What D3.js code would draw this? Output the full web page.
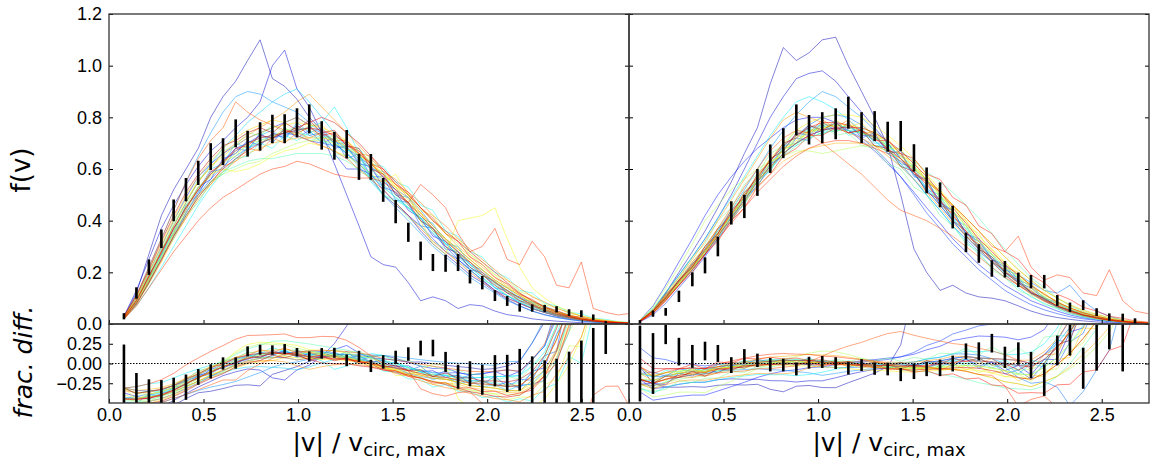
<!DOCTYPE html>
<html>
<head>
<meta charset="utf-8">
<script src="https://cdn.jsdelivr.net/npm/d3@7"></script>
<style>
  body { margin: 0; background: #fff; }
  svg { display: block; }
</style>
</head>
<body>
<script>
// ---- data ----

// left panel: bin centres, f(v) of the data with errors, frac. diff. with errors
const xLeft = [0.079,0.145,0.211,0.277,0.342,0.407,0.472,0.538,0.603,0.670,
  0.733,0.799,0.864,0.929,0.994,1.059,1.125,1.192,1.257,1.322,
  1.385,1.450,1.516,1.583,1.648,1.713,1.780,1.846,1.909,1.974,
  2.041,2.106,2.172,2.238,2.304,2.367,2.433,2.498,2.561,2.627];
const fLeft = [0.030,0.120,0.220,0.330,0.440,0.520,0.585,0.648,0.667,0.738,
  0.698,0.726,0.755,0.756,0.779,0.794,0.730,0.690,0.696,0.608,
  0.608,0.519,0.435,0.355,0.283,0.238,0.235,0.238,0.183,0.160,
  0.110,0.089,0.064,0.062,0.060,0.057,0.044,0.040,0.026,-0.005];
const errLeft = [0.012,0.022,0.030,0.036,0.042,0.045,0.047,0.052,0.052,0.054,
  0.050,0.055,0.055,0.056,0.056,0.056,0.055,0.054,0.055,0.050,
  0.050,0.046,0.045,0.037,0.036,0.033,0.033,0.033,0.026,0.026,
  0.021,0.019,0.016,0.014,0.014,0.012,0.013,0.013,0.011,0.016];
const fracLeft = [-0.20,-0.45,-0.45,-0.44,-0.40,-0.30,-0.17,-0.10,0.00,0.006,
  0.154,0.175,0.170,0.183,0.143,0.090,0.128,0.135,0.040,0.090,
  -0.030,0.020,0.078,0.120,0.196,0.196,0.020,-0.167,-0.130,-0.205,
  -0.090,-0.125,-0.080,-0.250,-0.300,-0.300,-0.250,-0.200,-0.150,0.380];
const fracErrLeft = [0.44,0.33,0.25,0.23,0.22,0.16,0.10,0.09,0.078,0.072,
  0.063,0.063,0.060,0.063,0.053,0.063,0.067,0.063,0.074,0.071,
  0.078,0.085,0.084,0.085,0.093,0.105,0.127,0.152,0.158,0.190,
  0.196,0.235,0.265,0.34,0.34,0.36,0.40,0.49,0.60,0.26];

// left panel: the reference curve the frac. diff. of the thin lines is taken against
const lineXLeft = [...xLeft, 2.692, 2.757];
const modelLeft = [0.0138,0.0495,0.104,0.167,0.245,0.334,0.428,0.519,0.601,0.680,
  0.745,0.788,0.819,0.838,0.836,0.823,0.806,0.777,0.737,0.680,
  0.620,0.551,0.490,0.427,0.367,0.309,0.264,0.221,0.180,0.148,
  0.117,0.092,0.072,0.063,0.055,0.052,0.049,0.040,0.036,0.032,
  0.025,0.018];

// left panel: individual thin curves, f(v) at lineXLeft
const linesLeft = [
  [0.030,0.120,0.270,0.420,0.520,0.600,0.680,0.800,0.880,0.940,1.020,1.100,0.950,0.920,0.870,0.800,0.750,0.700,0.660,0.620,0.570,0.500,0.460,0.420,0.360,0.310,0.270,0.230,0.190,0.160,0.125,0.095,0.070,0.050,0.036,0.026,0.018,0.012,0.008,0.005,0.003,0.002],
  [0.030,0.130,0.250,0.370,0.460,0.540,0.610,0.670,0.710,0.760,0.800,0.860,1.000,1.060,0.910,0.840,0.740,0.620,0.500,0.380,0.260,0.230,0.220,0.160,0.090,0.105,0.090,0.060,0.075,0.070,0.050,0.036,0.030,0.020,0.015,0.011,0.008,0.005,0.003,0.002,0.001,0.001],
  [0.022,0.085,0.190,0.270,0.370,0.440,0.530,0.560,0.640,0.660,0.710,0.690,0.740,0.720,0.770,0.730,0.740,0.680,0.690,0.620,0.610,0.530,0.510,0.440,0.410,0.340,0.320,0.260,0.240,0.190,0.165,0.120,0.105,0.070,0.058,0.038,0.030,0.018,0.014,0.008,0.006,0.003],
  [0.028,0.100,0.200,0.300,0.400,0.490,0.570,0.620,0.660,0.690,0.720,0.740,0.760,0.780,0.800,0.770,0.720,0.660,0.600,0.600,0.580,0.520,0.470,0.420,0.380,0.330,0.280,0.250,0.210,0.170,0.130,0.110,0.080,0.060,0.045,0.033,0.024,0.016,0.011,0.007,0.004,0.002],
  [0.020,0.075,0.160,0.250,0.340,0.430,0.510,0.580,0.630,0.680,0.700,0.730,0.720,0.740,0.730,0.710,0.700,0.690,0.680,0.650,0.610,0.570,0.520,0.460,0.400,0.350,0.300,0.250,0.210,0.170,0.130,0.100,0.080,0.060,0.045,0.030,0.020,0.014,0.009,0.006,0.004,0.002],
  [0.027,0.100,0.170,0.290,0.350,0.460,0.500,0.590,0.600,0.680,0.670,0.740,0.700,0.760,0.720,0.750,0.700,0.720,0.640,0.660,0.570,0.570,0.480,0.470,0.380,0.370,0.290,0.280,0.210,0.200,0.140,0.130,0.090,0.080,0.050,0.045,0.025,0.022,0.011,0.010,0.004,0.004],
  [0.025,0.085,0.170,0.260,0.350,0.430,0.500,0.560,0.610,0.650,0.680,0.700,0.720,0.730,0.750,0.760,0.740,0.710,0.680,0.640,0.600,0.550,0.520,0.490,0.440,0.380,0.330,0.280,0.230,0.190,0.160,0.130,0.100,0.085,0.070,0.050,0.035,0.020,0.012,0.008,0.005,0.003],
  [0.030,0.110,0.220,0.330,0.440,0.550,0.650,0.740,0.820,0.880,0.900,0.890,0.860,0.840,0.820,0.780,0.740,0.700,0.660,0.610,0.560,0.500,0.450,0.400,0.350,0.300,0.260,0.220,0.180,0.150,0.120,0.090,0.070,0.050,0.035,0.025,0.017,0.011,0.007,0.004,0.003,0.002],
  [0.024,0.090,0.175,0.265,0.360,0.455,0.515,0.600,0.620,0.700,0.680,0.730,0.750,0.710,0.780,0.740,0.760,0.700,0.700,0.650,0.600,0.590,0.500,0.490,0.410,0.390,0.310,0.300,0.230,0.210,0.160,0.140,0.100,0.085,0.060,0.050,0.030,0.025,0.015,0.011,0.006,0.004],
  [0.025,0.090,0.180,0.280,0.380,0.470,0.550,0.620,0.680,0.730,0.780,0.820,0.860,0.890,0.910,0.860,0.800,0.740,0.680,0.630,0.580,0.530,0.490,0.450,0.410,0.360,0.310,0.260,0.220,0.180,0.140,0.110,0.085,0.060,0.045,0.032,0.022,0.015,0.010,0.006,0.004,0.002],
  [0.020,0.070,0.140,0.220,0.300,0.380,0.460,0.530,0.590,0.640,0.680,0.710,0.730,0.740,0.750,0.760,0.780,0.840,0.760,0.660,0.550,0.500,0.480,0.450,0.410,0.360,0.310,0.270,0.220,0.180,0.140,0.110,0.085,0.065,0.048,0.035,0.025,0.017,0.011,0.007,0.004,0.002],
  [0.020,0.080,0.160,0.260,0.330,0.420,0.470,0.550,0.580,0.640,0.650,0.700,0.680,0.730,0.710,0.740,0.720,0.730,0.670,0.680,0.620,0.610,0.550,0.530,0.460,0.440,0.360,0.340,0.280,0.260,0.200,0.180,0.130,0.120,0.080,0.070,0.045,0.040,0.022,0.018,0.009,0.006],
  [0.025,0.090,0.180,0.270,0.360,0.450,0.520,0.580,0.630,0.670,0.700,0.720,0.730,0.740,0.740,0.730,0.710,0.690,0.660,0.620,0.580,0.540,0.500,0.450,0.400,0.350,0.310,0.270,0.230,0.190,0.155,0.125,0.095,0.072,0.052,0.038,0.027,0.018,0.012,0.008,0.005,0.003],
  [0.020,0.080,0.160,0.250,0.340,0.420,0.490,0.550,0.590,0.610,0.630,0.640,0.640,0.650,0.660,0.660,0.660,0.650,0.630,0.600,0.570,0.530,0.490,0.450,0.410,0.370,0.330,0.290,0.250,0.210,0.170,0.140,0.110,0.080,0.060,0.045,0.032,0.022,0.014,0.009,0.006,0.003],
  [0.026,0.095,0.200,0.280,0.390,0.470,0.560,0.600,0.670,0.690,0.740,0.730,0.770,0.740,0.760,0.710,0.720,0.660,0.650,0.590,0.570,0.500,0.470,0.410,0.380,0.320,0.290,0.240,0.210,0.170,0.150,0.110,0.090,0.065,0.050,0.035,0.026,0.016,0.012,0.007,0.005,0.003],
  [0.025,0.095,0.190,0.290,0.380,0.460,0.530,0.580,0.620,0.660,0.690,0.700,0.720,0.750,0.760,0.750,0.730,0.700,0.670,0.640,0.600,0.560,0.520,0.470,0.420,0.370,0.320,0.280,0.240,0.200,0.160,0.130,0.100,0.075,0.055,0.040,0.028,0.019,0.012,0.008,0.005,0.003],
  [0.020,0.080,0.170,0.260,0.350,0.430,0.500,0.550,0.580,0.600,0.620,0.630,0.660,0.680,0.700,0.710,0.710,0.700,0.680,0.650,0.620,0.580,0.540,0.500,0.450,0.400,0.350,0.310,0.270,0.230,0.190,0.150,0.120,0.090,0.070,0.050,0.035,0.024,0.016,0.010,0.006,0.003],
  [0.023,0.088,0.180,0.280,0.360,0.450,0.530,0.570,0.630,0.650,0.700,0.710,0.720,0.760,0.730,0.770,0.720,0.720,0.680,0.660,0.610,0.580,0.530,0.500,0.440,0.420,0.350,0.330,0.270,0.240,0.190,0.170,0.125,0.110,0.075,0.065,0.040,0.033,0.020,0.015,0.008,0.005],
  [0.020,0.090,0.170,0.260,0.350,0.440,0.520,0.580,0.600,0.590,0.600,0.620,0.650,0.670,0.680,0.700,0.690,0.670,0.650,0.620,0.580,0.550,0.580,0.500,0.400,0.310,0.270,0.400,0.410,0.420,0.450,0.330,0.220,0.140,0.100,0.070,0.050,0.030,0.020,0.012,0.008,0.005],
  [0.028,0.100,0.200,0.300,0.400,0.480,0.550,0.610,0.650,0.690,0.720,0.740,0.760,0.770,0.780,0.770,0.760,0.740,0.710,0.670,0.630,0.580,0.530,0.480,0.430,0.380,0.330,0.290,0.250,0.210,0.170,0.140,0.110,0.085,0.063,0.046,0.033,0.022,0.015,0.010,0.006,0.004],
  [0.028,0.105,0.210,0.310,0.410,0.500,0.570,0.630,0.680,0.720,0.750,0.770,0.790,0.780,0.800,0.770,0.770,0.720,0.710,0.650,0.630,0.560,0.530,0.460,0.430,0.360,0.330,0.270,0.240,0.190,0.165,0.125,0.100,0.075,0.055,0.040,0.028,0.019,0.012,0.008,0.005,0.003],
  [0.020,0.075,0.155,0.240,0.330,0.410,0.480,0.540,0.590,0.630,0.660,0.680,0.700,0.710,0.720,0.720,0.720,0.710,0.690,0.660,0.620,0.580,0.540,0.500,0.450,0.400,0.350,0.300,0.260,0.220,0.180,0.145,0.115,0.088,0.065,0.048,0.034,0.023,0.015,0.010,0.006,0.003],
  [0.025,0.090,0.180,0.280,0.380,0.470,0.550,0.610,0.660,0.700,0.730,0.760,0.790,0.820,0.860,0.890,0.840,0.790,0.740,0.690,0.640,0.590,0.540,0.490,0.430,0.380,0.330,0.290,0.250,0.210,0.170,0.140,0.110,0.080,0.060,0.044,0.031,0.021,0.014,0.009,0.005,0.003],
  [0.021,0.078,0.165,0.245,0.340,0.410,0.500,0.540,0.610,0.630,0.680,0.670,0.720,0.700,0.740,0.720,0.740,0.710,0.710,0.660,0.650,0.590,0.560,0.510,0.470,0.420,0.380,0.330,0.290,0.250,0.210,0.170,0.140,0.105,0.085,0.060,0.045,0.030,0.020,0.013,0.008,0.004],
  [0.030,0.110,0.220,0.330,0.440,0.550,0.640,0.710,0.760,0.860,0.820,0.790,0.770,0.750,0.730,0.710,0.690,0.670,0.640,0.600,0.560,0.520,0.470,0.420,0.370,0.320,0.280,0.240,0.200,0.165,0.130,0.100,0.080,0.060,0.044,0.032,0.022,0.015,0.010,0.006,0.004,0.002],
  [0.020,0.070,0.140,0.210,0.280,0.340,0.400,0.450,0.490,0.520,0.550,0.580,0.600,0.610,0.630,0.620,0.600,0.580,0.570,0.565,0.565,0.550,0.510,0.470,0.540,0.500,0.450,0.350,0.280,0.300,0.370,0.250,0.230,0.320,0.260,0.150,0.140,0.240,0.060,0.045,0.035,0.041],
  [0.025,0.092,0.185,0.275,0.370,0.450,0.520,0.590,0.620,0.680,0.690,0.730,0.720,0.750,0.740,0.760,0.730,0.740,0.690,0.670,0.620,0.600,0.540,0.510,0.450,0.410,0.350,0.320,0.260,0.230,0.180,0.155,0.115,0.095,0.065,0.052,0.033,0.026,0.015,0.011,0.006,0.004],
  [0.025,0.090,0.185,0.280,0.370,0.450,0.520,0.580,0.630,0.670,0.700,0.720,0.730,0.740,0.750,0.760,0.750,0.730,0.700,0.660,0.620,0.570,0.520,0.470,0.420,0.370,0.320,0.280,0.240,0.200,0.160,0.130,0.100,0.075,0.055,0.040,0.028,0.019,0.012,0.008,0.005,0.003],
  [0.020,0.080,0.160,0.250,0.340,0.420,0.490,0.550,0.600,0.640,0.670,0.700,0.720,0.740,0.760,0.780,0.800,0.780,0.740,0.700,0.650,0.600,0.550,0.500,0.450,0.400,0.360,0.320,0.280,0.240,0.200,0.160,0.120,0.090,0.065,0.045,0.030,0.020,0.013,0.008,0.005,0.003],
  [0.030,0.110,0.210,0.320,0.420,0.510,0.580,0.640,0.690,0.710,0.740,0.760,0.740,0.780,0.750,0.790,0.740,0.750,0.690,0.680,0.600,0.580,0.500,0.470,0.400,0.370,0.300,0.270,0.220,0.190,0.150,0.120,0.090,0.070,0.050,0.036,0.026,0.017,0.011,0.007,0.004,0.002]
];

// right panel
const xRight = [0.058,0.127,0.194,0.264,0.335,0.402,0.470,0.541,0.610,0.679,
  0.747,0.816,0.885,0.952,1.022,1.093,1.160,1.230,1.299,1.368,
  1.437,1.507,1.574,1.645,1.712,1.782,1.850,1.919,1.988,2.059,
  2.126,2.196,2.265,2.332,2.402,2.473,2.540,2.611,2.676];
const fRight = [0.005,0.040,0.047,0.107,0.173,0.227,0.300,0.430,0.455,0.548,
  0.640,0.700,0.790,0.752,0.760,0.775,0.818,0.760,0.766,0.725,
  0.728,0.643,0.556,0.500,0.414,0.316,0.273,0.215,0.212,0.171,
  0.164,0.164,0.091,0.065,0.073,0.046,0.027,0.026,0.009];
const errRight = [0.010,0.012,0.015,0.022,0.027,0.031,0.038,0.045,0.045,0.052,
  0.055,0.058,0.060,0.057,0.060,0.060,0.062,0.060,0.058,0.058,
  0.058,0.053,0.050,0.048,0.044,0.038,0.036,0.032,0.032,0.028,
  0.026,0.026,0.021,0.018,0.019,0.015,0.014,0.014,0.013];
const fracRight = [0.00,0.00,0.37,0.15,0.09,0.158,0.127,-0.02,0.094,0.04,
  -0.015,-0.02,-0.07,0.01,0.02,0.005,-0.06,-0.02,-0.065,-0.07,
  -0.14,-0.10,-0.07,-0.055,0.00,0.154,0.154,0.257,0.078,0.126,
  -0.02,-0.21,0.165,0.30,-0.06,0.20,0.55,0.25,0.90];
const fracErrRight = [0.48,0.385,0.125,0.175,0.145,0.118,0.107,0.10,0.088,0.085,
  0.085,0.08,0.08,0.075,0.076,0.075,0.08,0.075,0.078,0.08,
  0.083,0.097,0.09,0.105,0.10,0.10,0.114,0.118,0.135,0.142,
  0.167,0.20,0.188,0.20,0.26,0.29,0.37,0.35,0.35];

const lineXRight = [...xRight, 2.745];
const modelRight = [0.0096,0.0375,0.084,0.140,0.198,0.252,0.326,0.403,0.480,0.560,
  0.626,0.687,0.727,0.758,0.765,0.770,0.757,0.735,0.703,0.662,
  0.618,0.570,0.528,0.475,0.426,0.370,0.310,0.255,0.200,0.156,
  0.120,0.100,0.084,0.070,0.058,0.046,0.035,0.027,0.020,0.015];

const linesRight = [
  [0.010,0.050,0.120,0.200,0.280,0.360,0.450,0.550,0.660,0.760,0.930,1.070,1.020,1.050,1.100,1.110,1.000,0.900,0.800,0.690,0.500,0.290,0.200,0.130,0.150,0.120,0.105,0.100,0.090,0.070,0.050,0.035,0.025,0.018,0.012,0.008,0.005,0.003,0.002,0.001],
  [0.012,0.055,0.120,0.190,0.260,0.330,0.410,0.500,0.600,0.700,0.800,0.880,0.950,0.970,0.980,0.940,0.880,0.820,0.760,0.700,0.640,0.580,0.520,0.460,0.400,0.340,0.290,0.240,0.190,0.150,0.120,0.090,0.065,0.045,0.030,0.020,0.012,0.007,0.004,0.002],
  [0.013,0.050,0.115,0.160,0.235,0.270,0.370,0.410,0.510,0.550,0.640,0.670,0.740,0.730,0.780,0.750,0.770,0.730,0.730,0.670,0.660,0.580,0.560,0.470,0.440,0.350,0.320,0.250,0.220,0.160,0.140,0.095,0.080,0.050,0.040,0.024,0.018,0.009,0.007,0.003],
  [0.015,0.070,0.150,0.240,0.330,0.420,0.500,0.570,0.630,0.680,0.720,0.760,0.790,0.800,0.800,0.780,0.750,0.710,0.670,0.620,0.570,0.510,0.450,0.390,0.330,0.280,0.230,0.190,0.150,0.120,0.090,0.070,0.050,0.035,0.024,0.016,0.010,0.006,0.004,0.002],
  [0.008,0.035,0.080,0.140,0.200,0.260,0.330,0.400,0.470,0.540,0.600,0.660,0.700,0.730,0.750,0.760,0.750,0.720,0.680,0.630,0.570,0.500,0.430,0.370,0.310,0.260,0.210,0.170,0.130,0.100,0.075,0.055,0.040,0.028,0.020,0.014,0.009,0.006,0.004,0.002],
  [0.011,0.042,0.100,0.150,0.220,0.265,0.350,0.400,0.490,0.530,0.620,0.650,0.720,0.710,0.770,0.740,0.780,0.720,0.740,0.660,0.670,0.570,0.560,0.460,0.440,0.350,0.330,0.250,0.230,0.170,0.150,0.100,0.085,0.055,0.042,0.026,0.020,0.010,0.007,0.003],
  [0.011,0.045,0.100,0.160,0.220,0.280,0.350,0.420,0.490,0.560,0.620,0.680,0.730,0.770,0.800,0.810,0.800,0.770,0.730,0.680,0.620,0.560,0.500,0.440,0.380,0.330,0.280,0.240,0.210,0.190,0.160,0.130,0.120,0.150,0.090,0.050,0.030,0.015,0.008,0.004],
  [0.012,0.050,0.105,0.170,0.230,0.290,0.360,0.440,0.520,0.600,0.680,0.750,0.810,0.860,0.900,0.880,0.840,0.800,0.750,0.700,0.640,0.580,0.520,0.460,0.400,0.340,0.290,0.240,0.200,0.160,0.120,0.090,0.067,0.048,0.033,0.022,0.014,0.008,0.005,0.003],
  [0.012,0.048,0.098,0.165,0.210,0.290,0.330,0.430,0.470,0.570,0.600,0.690,0.700,0.770,0.740,0.790,0.740,0.760,0.700,0.700,0.620,0.610,0.520,0.500,0.410,0.380,0.300,0.270,0.200,0.180,0.120,0.105,0.065,0.055,0.032,0.027,0.014,0.011,0.005,0.003],
  [0.013,0.052,0.110,0.170,0.230,0.290,0.360,0.430,0.500,0.570,0.630,0.690,0.730,0.760,0.770,0.770,0.760,0.740,0.710,0.670,0.630,0.580,0.530,0.470,0.410,0.350,0.300,0.250,0.200,0.160,0.125,0.095,0.070,0.050,0.034,0.023,0.014,0.008,0.005,0.003],
  [0.014,0.060,0.120,0.190,0.260,0.330,0.410,0.490,0.570,0.650,0.730,0.800,0.860,0.880,0.860,0.830,0.790,0.750,0.710,0.660,0.610,0.560,0.500,0.440,0.380,0.320,0.270,0.220,0.180,0.140,0.105,0.080,0.058,0.040,0.027,0.018,0.011,0.007,0.004,0.002],
  [0.010,0.046,0.092,0.158,0.205,0.285,0.325,0.420,0.460,0.560,0.590,0.680,0.690,0.760,0.730,0.780,0.730,0.750,0.690,0.690,0.610,0.600,0.510,0.490,0.400,0.370,0.290,0.260,0.190,0.170,0.115,0.100,0.062,0.052,0.030,0.025,0.013,0.010,0.005,0.002],
  [0.011,0.045,0.095,0.155,0.215,0.275,0.340,0.410,0.480,0.550,0.610,0.660,0.700,0.720,0.740,0.750,0.750,0.740,0.720,0.690,0.650,0.610,0.560,0.500,0.440,0.380,0.320,0.270,0.220,0.180,0.140,0.105,0.078,0.056,0.039,0.026,0.016,0.010,0.006,0.003],
  [0.012,0.050,0.100,0.160,0.220,0.280,0.350,0.420,0.490,0.550,0.600,0.650,0.690,0.720,0.740,0.750,0.750,0.740,0.720,0.700,0.670,0.630,0.590,0.550,0.510,0.460,0.410,0.350,0.290,0.230,0.180,0.140,0.100,0.070,0.048,0.032,0.020,0.012,0.007,0.004],
  [0.014,0.058,0.125,0.180,0.260,0.310,0.400,0.450,0.540,0.580,0.660,0.690,0.750,0.740,0.770,0.730,0.740,0.690,0.680,0.620,0.600,0.530,0.500,0.420,0.380,0.310,0.280,0.210,0.180,0.130,0.110,0.075,0.062,0.040,0.030,0.018,0.013,0.007,0.005,0.002],
  [0.013,0.055,0.110,0.175,0.240,0.300,0.370,0.440,0.510,0.570,0.630,0.680,0.720,0.750,0.760,0.770,0.760,0.750,0.720,0.690,0.650,0.600,0.550,0.490,0.430,0.370,0.310,0.260,0.210,0.170,0.130,0.100,0.072,0.050,0.035,0.023,0.014,0.008,0.005,0.003],
  [0.014,0.065,0.140,0.220,0.310,0.400,0.460,0.520,0.560,0.600,0.630,0.650,0.670,0.670,0.660,0.670,0.680,0.690,0.690,0.670,0.640,0.600,0.560,0.510,0.460,0.410,0.360,0.310,0.260,0.210,0.170,0.130,0.100,0.075,0.055,0.038,0.025,0.016,0.010,0.006],
  [0.012,0.047,0.108,0.155,0.232,0.270,0.360,0.400,0.500,0.530,0.630,0.650,0.730,0.720,0.780,0.740,0.780,0.730,0.750,0.680,0.680,0.600,0.580,0.490,0.460,0.380,0.350,0.270,0.240,0.180,0.155,0.110,0.090,0.060,0.046,0.029,0.021,0.011,0.008,0.004],
  [0.012,0.050,0.105,0.165,0.225,0.285,0.350,0.420,0.490,0.560,0.620,0.670,0.710,0.740,0.760,0.770,0.770,0.760,0.740,0.700,0.660,0.610,0.560,0.500,0.440,0.380,0.320,0.270,0.220,0.180,0.140,0.105,0.078,0.056,0.040,0.027,0.017,0.010,0.006,0.003],
  [0.010,0.045,0.095,0.155,0.215,0.280,0.350,0.420,0.500,0.570,0.640,0.700,0.750,0.780,0.800,0.810,0.810,0.800,0.770,0.730,0.690,0.640,0.580,0.520,0.460,0.400,0.340,0.290,0.240,0.190,0.150,0.115,0.085,0.062,0.044,0.030,0.019,0.011,0.006,0.003],
  [0.011,0.044,0.095,0.160,0.215,0.285,0.340,0.430,0.470,0.560,0.600,0.680,0.700,0.750,0.750,0.790,0.760,0.780,0.720,0.720,0.650,0.630,0.550,0.520,0.430,0.400,0.320,0.290,0.220,0.200,0.140,0.120,0.080,0.065,0.040,0.032,0.018,0.013,0.006,0.004],
  [0.011,0.048,0.100,0.160,0.220,0.280,0.340,0.400,0.470,0.530,0.580,0.630,0.660,0.680,0.690,0.700,0.700,0.700,0.690,0.670,0.640,0.600,0.560,0.510,0.460,0.410,0.360,0.310,0.260,0.210,0.170,0.130,0.100,0.073,0.052,0.036,0.024,0.015,0.009,0.005],
  [0.013,0.055,0.115,0.180,0.250,0.320,0.400,0.480,0.560,0.640,0.720,0.790,0.820,0.800,0.780,0.760,0.740,0.720,0.690,0.650,0.610,0.560,0.510,0.450,0.390,0.340,0.290,0.240,0.190,0.150,0.115,0.087,0.064,0.045,0.031,0.021,0.013,0.008,0.005,0.003],
  [0.013,0.052,0.112,0.168,0.240,0.290,0.370,0.420,0.510,0.560,0.640,0.670,0.740,0.740,0.790,0.760,0.790,0.740,0.740,0.670,0.660,0.580,0.550,0.460,0.430,0.340,0.310,0.240,0.210,0.150,0.130,0.090,0.075,0.048,0.037,0.022,0.016,0.008,0.006,0.003],
  [0.012,0.050,0.105,0.170,0.230,0.300,0.370,0.450,0.530,0.600,0.670,0.720,0.750,0.740,0.700,0.660,0.620,0.580,0.530,0.480,0.440,0.420,0.400,0.370,0.340,0.300,0.260,0.220,0.180,0.150,0.120,0.090,0.070,0.050,0.035,0.024,0.016,0.010,0.006,0.003],
  [0.010,0.045,0.095,0.150,0.210,0.270,0.330,0.390,0.450,0.510,0.560,0.610,0.650,0.680,0.700,0.710,0.710,0.700,0.680,0.660,0.630,0.590,0.550,0.510,0.460,0.410,0.360,0.300,0.280,0.340,0.220,0.170,0.190,0.180,0.120,0.110,0.210,0.090,0.050,0.040],
  [0.010,0.043,0.090,0.150,0.200,0.270,0.320,0.400,0.450,0.530,0.580,0.650,0.680,0.730,0.730,0.760,0.740,0.750,0.710,0.710,0.660,0.640,0.580,0.560,0.490,0.460,0.380,0.350,0.280,0.250,0.190,0.160,0.115,0.095,0.065,0.050,0.030,0.022,0.012,0.007],
  [0.012,0.050,0.105,0.165,0.225,0.285,0.350,0.430,0.500,0.570,0.630,0.690,0.730,0.760,0.780,0.780,0.770,0.750,0.720,0.680,0.640,0.590,0.540,0.480,0.420,0.360,0.300,0.250,0.200,0.160,0.125,0.095,0.070,0.050,0.035,0.023,0.014,0.008,0.005,0.003],
  [0.009,0.040,0.090,0.150,0.210,0.270,0.340,0.410,0.480,0.550,0.610,0.660,0.700,0.730,0.750,0.760,0.760,0.760,0.740,0.710,0.670,0.620,0.570,0.510,0.450,0.390,0.330,0.280,0.230,0.190,0.150,0.115,0.085,0.062,0.044,0.030,0.019,0.011,0.006,0.003],
  [0.012,0.050,0.100,0.170,0.220,0.300,0.350,0.440,0.490,0.580,0.630,0.700,0.720,0.770,0.750,0.780,0.740,0.750,0.690,0.680,0.610,0.590,0.510,0.480,0.400,0.360,0.290,0.260,0.200,0.170,0.120,0.100,0.068,0.054,0.034,0.026,0.015,0.010,0.005,0.003]
];

const xTicks = [0, 0.5, 1.0, 1.5, 2.0, 2.5];
const fTicks = [0, 0.2, 0.4, 0.6, 0.8, 1.0, 1.2];
const fracTicks = [-0.25, 0, 0.25];

// ---- drawing ----
const W = 1158, H = 463;
const panelW = 520, topY0 = 14, topY1 = 324, botY1 = 403;

const svg = d3.select("body").append("svg")
  .attr("width", W).attr("height", H)
  .style("font-family", "'DejaVu Sans', sans-serif");
svg.append("rect").attr("width", W).attr("height", H).attr("fill", "#fff");
const defs = svg.append("defs");

// matplotlib 'jet'
const clamp = v => Math.max(0, Math.min(1, v));
const jet = t => d3.rgb(
  255 * clamp(Math.min(4 * t - 1.5, -4 * t + 4.5)),
  255 * clamp(Math.min(4 * t - 0.5, -4 * t + 3.5)),
  255 * clamp(Math.min(4 * t + 0.5, -4 * t + 2.5))
).formatHex();

const panels = [
  {x0: 109, lineX: lineXLeft, lines: linesLeft, model: modelLeft,
   dataX: xLeft, f: fLeft, err: errLeft, frac: fracLeft, fracErr: fracErrLeft, labels: true},
  {x0: 629, lineX: lineXRight, lines: linesRight, model: modelRight,
   dataX: xRight, f: fRight, err: errRight, frac: fracRight, fracErr: fracErrRight, labels: false}
];

const yTop = d3.scaleLinear().domain([0, 1.2]).range([topY1, topY0]);
const yBot = d3.scaleLinear().domain([-0.5, 0.5]).range([botY1, topY1]);

panels.forEach((p, pi) => {
  const x = d3.scaleLinear().domain([0, 2.75]).range([p.x0, p.x0 + panelW]);
  const hue = d3.scaleLinear().domain([0, p.lines.length - 1]).range([0.05, 0.95]);

  defs.append("clipPath").attr("id", "ct" + pi).append("rect")
    .attr("x", p.x0).attr("y", topY0).attr("width", panelW).attr("height", topY1 - topY0);
  defs.append("clipPath").attr("id", "cb" + pi).append("rect")
    .attr("x", p.x0).attr("y", topY1).attr("width", panelW).attr("height", botY1 - topY1);

  // top: f(v)
  const gTop = svg.append("g").attr("clip-path", `url(#ct${pi})`);
  const curve = d3.line().x((d, i) => x(p.lineX[i])).y(d => yTop(d));
  gTop.selectAll("path.curve").data(p.lines).join("path")
    .attr("class", "curve")
    .attr("d", curve)
    .attr("fill", "none")
    .attr("stroke", (d, i) => jet(hue(i)))
    .attr("stroke-opacity", 0.55)
    .attr("stroke-width", 0.9);
  gTop.selectAll("line.err").data(p.dataX).join("line")
    .attr("class", "err")
    .attr("x1", d => x(d)).attr("x2", d => x(d))
    .attr("y1", (d, i) => yTop(p.f[i] - p.err[i]))
    .attr("y2", (d, i) => yTop(p.f[i] + p.err[i]))
    .attr("stroke", "#000").attr("stroke-width", 2.6);

  // bottom: frac. diff. = model / f - 1
  const gBot = svg.append("g").attr("clip-path", `url(#cb${pi})`);
  const fracCurve = d3.line()
    .x((d, i) => x(p.lineX[i]))
    .y((d, i) => yBot(Math.max(-6, Math.min(6, p.model[i] / d - 1))));
  gBot.selectAll("path.curve").data(p.lines).join("path")
    .attr("class", "curve")
    .attr("d", fracCurve)
    .attr("fill", "none")
    .attr("stroke", (d, i) => jet(hue(i)))
    .attr("stroke-opacity", 0.55)
    .attr("stroke-width", 0.9);
  gBot.append("line")
    .attr("x1", p.x0).attr("x2", p.x0 + panelW)
    .attr("y1", yBot(0)).attr("y2", yBot(0))
    .attr("stroke", "#000").attr("stroke-width", 1.2)
    .attr("stroke-dasharray", "1.5,1.5");
  gBot.selectAll("line.err").data(p.dataX).join("line")
    .attr("class", "err")
    .attr("x1", d => x(d)).attr("x2", d => x(d))
    .attr("y1", (d, i) => yBot(p.frac[i] - p.fracErr[i]))
    .attr("y2", (d, i) => yBot(p.frac[i] + p.fracErr[i]))
    .attr("stroke", "#000").attr("stroke-width", 2.6);

  // axes, ticks pointing inwards
  const styleAxis = g => {
    g.select(".domain").remove();
    g.selectAll(".tick line").attr("stroke", "#000").attr("stroke-width", 1);
    g.selectAll(".tick text").attr("fill", "#000").style("font-size", "18px");
  };
  svg.append("g").attr("transform", `translate(0,${botY1})`)
    .call(d3.axisBottom(x).tickValues(xTicks).tickFormat(d3.format(".1f")).tickSize(-4).tickPadding(5))
    .call(styleAxis);
  svg.append("g").attr("transform", `translate(0,${topY1})`)
    .call(d3.axisBottom(x).tickValues(xTicks).tickFormat("").tickSize(-4))
    .call(styleAxis);
  svg.append("g").attr("transform", `translate(${p.x0},0)`)
    .call(d3.axisLeft(yTop).tickValues(fTicks)
      .tickFormat(p.labels ? d3.format(".1f") : "").tickSize(-4).tickPadding(7))
    .call(styleAxis);
  svg.append("g").attr("transform", `translate(${p.x0 + panelW},0)`)
    .call(d3.axisRight(yTop).tickValues(fTicks).tickFormat("").tickSize(-4))
    .call(styleAxis);
  svg.append("g").attr("transform", `translate(${p.x0},0)`)
    .call(d3.axisLeft(yBot).tickValues(fracTicks)
      .tickFormat(p.labels ? d3.format(".2f") : "").tickSize(-4).tickPadding(7))
    .call(styleAxis);
  svg.append("g").attr("transform", `translate(${p.x0 + panelW},0)`)
    .call(d3.axisRight(yBot).tickValues(fracTicks).tickFormat("").tickSize(-4))
    .call(styleAxis);

  // frames
  [[topY0, topY1], [topY1, botY1]].forEach(([a, b]) => {
    svg.append("rect")
      .attr("x", p.x0).attr("y", a).attr("width", panelW).attr("height", b - a)
      .attr("fill", "none").attr("stroke", "#333").attr("stroke-width", 1.3);
  });

  // x label
  const xl = svg.append("text")
    .attr("x", p.x0 + panelW / 2).attr("y", 451)
    .attr("text-anchor", "middle")
    .style("font-size", "25px").attr("fill", "#000");
  xl.append("tspan").text("|v| / v");
  xl.append("tspan").attr("dy", 5).style("font-size", "18px").text("circ, max");
});

// y labels
svg.append("text")
  .attr("transform", "translate(30,170) rotate(-90)")
  .attr("text-anchor", "middle")
  .style("font-size", "26px").attr("fill", "#000")
  .text("f(v)");
svg.append("text")
  .attr("transform", "translate(32,362) rotate(-90)")
  .attr("text-anchor", "middle")
  .style("font-size", "25px").style("font-style", "italic").attr("fill", "#000")
  .text("frac. diff.");
</script>
</body>
</html>
